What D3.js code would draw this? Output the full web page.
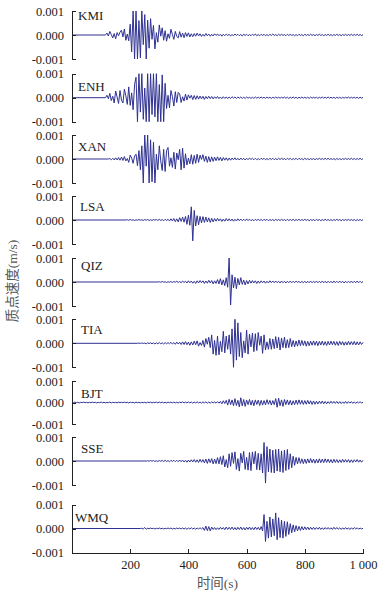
<!DOCTYPE html>
<meta charset="utf-8">
<script src="https://cdn.jsdelivr.net/npm/d3@7"></script>
<style>
body { margin: 0; background: #fff; }
text { font-family: "Liberation Serif", "Noto Sans CJK SC", serif; }
.axis path, .axis line { stroke: #222; shape-rendering: crispEdges; }
.axis text { font-size: 12.5px; fill: #222; }
.trace { fill: none; stroke: #2e3192; stroke-width: 1; stroke-linejoin: round; }
</style>
<body>
<script>

// particle velocity, units of 1e-5 m/s, one sample every STEP seconds from each trace's start time
var UNIT = 1e-5, STEP = 5;

var stations = ["KMI", "ENH", "XAN", "LSA", "QIZ", "TIA", "BJT", "SSE", "WMQ"];
var starts = [120, 120, 130, 190, 300, 230, 0, 260, 240];

var kmi = [8,-4,15,2,-12,6,-16,10,-3,12,
  20,-8,25,-22,4,-24,45,-70,100,-100,
  100,-100,60,-95,100,-40,85,-100,62,-55,
  68,-18,40,-58,10,-30,42,-5,30,-22,
  18,-26,5,-14,24,2,-18,15,-6,-12,
  14,-9,8,-11,10,-6,9,-8,5,-7,
  6,-5,8,-4,5,-6,3,-5,6,-3,
  4,-5,3,-4,5,-2,4,-3,3,-5,
  3,-3,4,-2,3,-4,2,-3,4,-2,
  3,-3,2,-4,3,-2,3,-3,2,-3,
  3,-2,4,-3,2,-3,3,-2,3,-3,
  2,-3,3,-2,4,-2,2,-3,3,-2,
  3,-2,2,-3,3,-2,3,-2,2,-3,
  2,-3,3,-2,2,-3,3,-2,2,-2,
  3,-2,2,-3,2,-2,3,-2,2,-3,
  2,-2,3,-2,2,-3,2,-2,3,-2,
  2,-3,2,-2,3,-2,2,-2,3,-2,
  2,-2,3,-2,2,-2,1];

var enh = [10,-4,18,-12,6,-22,28,3,-24,30,
  -10,-22,35,8,-28,45,-32,20,-50,55,
  85,-100,100,-60,100,-90,40,-100,100,-100,
  100,-70,100,-80,100,-100,55,-100,95,-100,
  60,-45,10,-42,30,5,-35,25,-20,22,
  16,-20,4,-14,15,-10,12,-2,10,-8,
  9,-7,8,-6,7,-5,6,-7,5,-4,
  6,-4,5,-5,4,-3,5,-4,3,-4,
  4,-3,3,-4,3,-3,4,-2,3,-3,
  3,-2,3,-3,2,-3,3,-2,2,-3,
  2,-3,3,-2,2,-2,3,-2,2,-3,
  3,-2,2,-3,2,-2,3,-2,2,-2,
  2,-2,3,-2,2,-3,2,-2,3,-2,
  2,-3,2,-2,3,-2,2,-2,2,-3,
  3,-2,2,-2,2,-3,2,-2,3,-2,
  2,-2,3,-2,2,-2,2,-3,2,-2,
  2,-3,2,-2,2,-2,3,-2,2,-2,
  2,-2,2,-3,2,-2,1];

var xan = [2,-3,3,-4,5,-4,6,-5,8,-6,
  10,-8,2,-14,16,4,-18,12,20,-28,
  35,-45,55,-100,100,-30,100,-100,80,-95,
  70,-100,20,-45,55,-8,-48,40,-52,35,
  48,-30,5,-35,28,-42,25,-3,40,-45,
  45,-38,22,-25,4,-20,18,-22,15,-18,
  20,-14,16,-2,18,-10,12,-14,10,-12,
  9,-10,8,-7,9,-6,7,-8,6,-5,
  5,-6,4,-5,4,-3,5,-4,3,-4,
  4,-3,3,-4,3,-3,4,-2,3,-3,
  3,-3,2,-3,3,-2,3,-3,2,-3,
  3,-2,3,-3,2,-3,3,-2,3,-2,
  2,-3,3,-2,3,-3,2,-2,3,-3,
  3,-2,2,-3,3,-2,2,-3,2,-2,
  2,-3,2,-2,3,-2,2,-2,3,-2,
  3,-2,2,-2,2,-3,2,-2,2,-3,
  2,-2,3,-2,2,-2,3,-2,2,-2,
  2,-2,3,-2,1];

var lsa = [1,-1,2,-1,1,-2,1,-1,2,-1,
  1,-2,2,-1,2,-2,1,-2,2,-1,
  2,-2,3,-2,2,-3,3,-2,3,-4,
  5,-4,6,-7,5,-8,10,-6,12,-9,
  15,-18,20,-22,55,-87,40,-25,18,-20,
  15,-12,14,-10,12,-8,9,-10,7,-8,
  6,-5,7,-4,5,-6,4,-5,6,-4,
  5,-4,4,-5,3,-4,5,-3,4,-3,
  3,-3,4,-2,3,-3,2,-3,3,-2,
  3,-2,2,-3,3,-2,3,-3,2,-2,
  2,-3,3,-2,2,-2,3,-2,2,-3,
  3,-2,2,-2,3,-3,2,-2,3,-2,
  2,-2,3,-2,2,-3,2,-2,2,-3,
  3,-2,2,-3,2,-2,3,-2,2,-2,
  2,-3,2,-2,3,-2,2,-3,2,-2,
  2,-2,3,-2,2,-2,2,-3,2,-2,
  2,-2,1];

var qiz = [1,-1,2,-1,1,-2,1,-1,2,-2,
  2,-1,3,-2,2,-3,4,-2,3,-4,
  5,-3,4,-5,3,-6,5,-4,6,-3,
  5,-6,4,-5,7,-4,6,-8,5,-6,
  10,-8,14,-12,9,-15,18,-22,100,-96,
  30,-25,20,-28,15,-12,18,-10,8,-12,
  6,-8,7,-5,6,-4,5,-6,4,-5,
  5,-3,4,-5,3,-4,5,-3,4,-3,
  4,-3,3,-4,4,-3,3,-4,3,-3,
  4,-3,3,-3,4,-2,3,-4,3,-3,
  3,-4,3,-3,4,-3,3,-3,4,-3,
  3,-3,4,-3,3,-4,3,-3,3,-4,
  4,-3,3,-3,4,-3,3,-4,3,-3,
  3,-3,4,-3,3,-3,4,-3,3,-3,
  2];

var tia = [1,-1,2,-1,1,-2,2,-1,2,-2,
  2,-3,2,-2,3,-2,2,-3,3,-2,
  3,-2,4,-3,3,-4,5,-3,4,-5,
  6,-5,7,-6,5,-8,6,-7,9,-6,
  10,-12,3,-9,12,-16,20,-4,25,-18,
  35,-45,12,-50,30,-48,8,-35,50,-40,
  30,-25,35,-45,60,-100,100,-70,85,-55,
  45,-60,10,-40,55,-45,38,-15,42,-35,
  40,-30,45,-8,30,-42,35,-28,6,-25,
  20,-25,18,-22,28,-20,25,-28,22,-18,
  25,-20,15,-18,20,-14,12,-15,10,-12,
  14,-10,12,-9,10,-12,8,-10,9,-8,
  10,-8,9,-10,8,-7,9,-8,7,-9,
  8,-7,9,-6,8,-8,7,-9,8,-6,
  7,-8,6,-7,8,-6,7,-6,8,-7,
  6,-7,6,-5,4];

var bjt = [1,-1,2,-1,1,-2,1,-1,2,-1,
  1,-2,1,-1,2,-1,1,-2,1,-1,
  2,-1,1,-2,1,-1,2,-2,1,-1,
  1,-2,2,-1,1,-1,2,-1,1,-2,
  2,-1,1,-2,2,-1,1,-2,1,-1,
  1,-2,2,-1,2,-2,1,-1,2,-2,
  2,-1,2,-2,1,-2,2,-1,2,-2,
  2,-2,1,-2,2,-1,3,-2,2,-2,
  3,-2,2,-3,2,-2,3,-2,2,-3,
  3,-2,3,-3,2,-3,3,-2,3,-3,
  4,-3,5,-6,8,-5,10,-12,15,-10,
  12,-15,18,-14,10,-20,22,-16,14,-18,
  12,-10,14,-12,10,-15,12,-9,11,-14,
  10,-12,9,-11,13,-8,10,-12,9,-10,
  18,-22,20,-15,12,-18,14,-10,12,-11,
  10,-12,8,-10,11,-9,12,-8,10,-9,
  9,-8,10,-7,8,-9,7,-8,6,-7,
  6,-5,7,-6,5,-6,4,-5,6,-4,
  5,-4,5,-5,4,-5,3,-4,5,-4,
  4,-3,4,-4,3,-4,3,-3,4,-3,
  2];

var sse = [1,-1,2,-1,2,-2,1,-2,2,-1,
  2,-2,3,-2,2,-3,3,-2,3,-3,
  3,-3,4,-3,4,-4,3,-5,4,-4,
  5,-4,6,-5,5,-6,7,-5,6,-8,
  8,-10,9,-7,10,-12,8,-11,14,-12,
  18,-15,22,-25,6,-28,30,-22,35,-10,
  38,-35,10,-42,32,-8,40,-35,15,-38,
  35,-40,38,-12,40,-36,32,-38,30,-50,
  77,-92,60,-45,50,-48,45,-50,48,-42,
  50,-45,42,-48,45,-40,48,-35,30,-28,
  20,-18,15,-12,14,-10,9,-11,8,-10,
  9,-8,10,-7,8,-9,7,-8,9,-7,
  8,-7,9,-6,8,-7,6,-8,7,-6,
  6,-7,5,-6,7,-5,6,-5,6,-6,
  5,-6,5,-4,6,-5,4,-5,3];

var wmq = [1,-2,4,-3,1,-1,2,-1,1,-2,
  1,-1,2,-1,1,-2,1,-1,2,-1,
  2,-2,1,-2,2,-1,2,-2,2,-2,
  2,-3,2,-2,3,-2,2,-3,2,-2,
  3,-2,4,-8,10,-9,8,-10,6,-4,
  4,-5,3,-4,5,-3,4,-5,6,-4,
  5,-4,6,-5,4,-6,5,-4,6,-5,
  4,-6,5,-4,6,-5,4,-5,6,-4,
  5,-6,8,-10,58,-54,30,-40,48,-35,
  40,-30,65,-47,45,-38,35,-40,30,-33,
  28,-25,20,-18,15,-14,12,-10,9,-8,
  8,-6,7,-5,6,-5,5,-4,5,-4,
  4,-3,5,-4,3,-4,4,-3,4,-3,
  3,-4,5,-3,4,-3,3,-4,3,-3,
  4,-3,3,-4,3,-3,4,-2,3,-3,
  2,-2,1];

var traces = [kmi, enh, xan, lsa, qiz, tia, bjt, sse, wmq];
var yTicks = [0.001, 0, -0.001];
var xTicks = [200, 400, 600, 800, 1000];

// layout
var width = 380, height = 596;
var panelMid = [35, 97.7, 159, 220, 282, 343.3, 402.5, 461, 528.5];
var panelHalf = [24, 24, 24, 24, 24, 24, 21.5, 24, 24];
var labelX = [78, 78, 78, 80, 81, 81, 81, 81, 75];
var labelDy = [-15, -7, -8, -9, -12.5, -9, -5, -8.5, -6.5];

var svg = d3.select("body").append("svg")
    .attr("width", width)
    .attr("height", height);

var x = d3.scaleLinear().domain([0, 1000]).range([72, 363]);

stations.forEach(function(name, i) {
  var y = d3.scaleLinear().domain([-0.001, 0.001])
      .range([panelMid[i] + panelHalf[i], panelMid[i] - panelHalf[i]]);

  // flat record before the trace's first sample
  var pts = [];
  if (starts[i] > 0) pts.push([0, 0], [starts[i] - STEP, 0]);
  traces[i].forEach(function(v, j) { pts.push([starts[i] + j * STEP, v]); });

  var line = d3.line()
      .x(function(d) { return x(d[0]); })
      .y(function(d) { return y(d[1] * UNIT); });

  svg.append("path")
      .attr("class", "trace")
      .attr("d", line(pts));

  svg.append("g")
      .attr("class", "axis")
      .attr("transform", "translate(72,0)")
      .call(d3.axisLeft(y).tickValues(yTicks)
        .tickSizeInner(-4).tickSizeOuter(-4).tickPadding(8)
        .tickFormat(function(d) { return d.toFixed(3); }));

  svg.append("text")
      .attr("x", labelX[i])
      .attr("y", panelMid[i] + labelDy[i])
      .style("font-size", "13px")
      .style("fill", "#222")
      .text(name);
});

svg.append("g")
    .attr("class", "axis")
    .attr("transform", "translate(0," + (panelMid[8] + panelHalf[8]) + ")")
    .call(d3.axisBottom(x).tickValues(xTicks)
      .tickSizeInner(-4).tickSizeOuter(0).tickPadding(8)
      .tickFormat(function(d) { return d === 1000 ? "1 000" : d; }));

svg.append("text")
    .attr("x", 217.5)
    .attr("y", 588)
    .attr("text-anchor", "middle")
    .style("font-size", "13.5px")
    .style("fill", "#555")
    .text("时间(s)");

svg.append("text")
    .attr("transform", "translate(17,281) rotate(-90)")
    .attr("text-anchor", "middle")
    .style("font-size", "13.5px")
    .style("fill", "#555")
    .text("质点速度(m/s)");

</script>
</body>
